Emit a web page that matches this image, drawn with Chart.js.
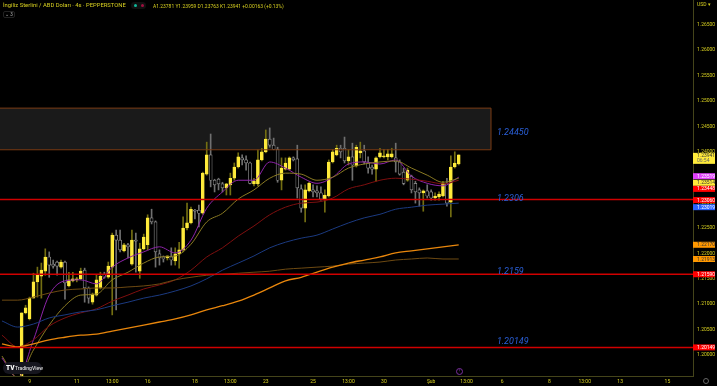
<!DOCTYPE html>
<html>
<head>
<meta charset="utf-8">
<title>GBPUSD 4s</title>
<script src="https://cdn.jsdelivr.net/npm/chart.js@4"></script>
<style>
  html, body { margin: 0; background: #000; }
  #wrap { position: relative; width: 717px; height: 386px; overflow: hidden; font-family: Roboto, sans-serif; }
  .txt { position: absolute; white-space: nowrap; line-height: 1; }
</style>
</head>
<body>
<div id="wrap">
  <canvas id="chart" width="717" height="386"></canvas>
  <div class="txt" style="left:3px;top:3px;font-size:5.85px;color:#d8d020">İngiliz Sterlini / ABD Doları · 4s · PEPPERSTONE</div>
  <div class="txt" style="left:131px;top:2px;width:15px;height:7px;border-radius:4px;background:#111"></div>
  <div class="txt" style="left:134px;top:4px;width:3px;height:3px;border-radius:2px;background:#0fb89a"></div>
  <div class="txt" style="left:141px;top:4px;width:3px;height:3px;border-radius:2px;background:#a01040"></div>
  <div class="txt" style="left:153px;top:3.5px;font-size:4.95px;color:#d8d020">A1.23781 Y1.23959 D1.23763 K1.23941 +0.00163 (+0.13%)</div>
  <div class="txt" style="left:3px;top:11px;width:12px;height:7px;border:1px solid #222;border-radius:2px;box-sizing:border-box;font-size:4.5px;color:#bbb;text-align:center;padding-top:0.5px">⌄ 3</div>
  <div class="txt" style="left:697px;top:2px;font-size:5px;color:#d8d020">USD ▾</div>
  <div class="txt" style="left:3px;top:362px;width:39px;height:12px;border-radius:6px;background:#16161e"></div>
  <div class="txt" style="left:6px;top:365px;font-size:6.5px;font-weight:900;color:#fff">TV</div>
  <div class="txt" style="left:15px;top:365.5px;font-size:5px;font-weight:500;color:#ddd">TradingView</div>
  <div class="txt" style="left:456px;top:367.5px;width:7px;height:7px;border:1px solid #7b2fa0;border-radius:50%;box-sizing:border-box;font-size:4px;color:#a050c8;text-align:center;padding-top:0.5px">!</div>
  <div class="txt" style="left:703px;top:378px;width:6px;height:6px;border:1px solid #666;border-radius:50%;box-sizing:border-box"></div>
</div>
<script>
const firstBar = 5
const opens = [1.1959,1.2083,1.2071,1.2112,1.2144,1.2155,1.2165,1.2193,1.2179,1.2183,1.2173,1.2183,1.2136,1.2146,1.2148,1.2150,1.2167,1.2132,1.2104,1.2118,1.2132,1.2159,1.2153,1.2173,1.2236,1.2226,1.2205,1.2217,1.2179,1.2226,1.2165,1.2209,1.2217,1.2270,1.2262,1.2199,1.2193,1.2191,1.2193,1.2185,1.2199,1.2207,1.2250,1.2260,1.2285,1.2285,1.2279,1.2356,1.2394,1.2344,1.2346,1.2337,1.2329,1.2335,1.2348,1.2370,1.2388,1.2384,1.2378,1.2337,1.2337,1.2384,1.2400,1.2425,1.2413,1.2405,1.2344,1.2366,1.2366,1.2388,1.2386,1.2327,1.2289,1.2323,1.2325,1.2323,1.2319,1.2307,1.2313,1.2380,1.2394,1.2407,1.2407,1.2382,1.2390,1.2372,1.2398,1.2402,1.2378,1.2370,1.2366,1.2390,1.2390,1.2390,1.2390,1.2388,1.2380,1.2360,1.2344,1.2352,1.2338,1.2325,1.2319,1.2323,1.2321,1.2309,1.2311,1.2313,1.2338,1.2301,1.2370,1.2376]
const highs = [1.2083,1.2098,1.2114,1.2161,1.2173,1.2181,1.2209,1.2203,1.2187,1.2185,1.2187,1.2185,1.2163,1.2163,1.2153,1.2171,1.2171,1.2134,1.2122,1.2157,1.2163,1.2163,1.2183,1.2240,1.2246,1.2246,1.2220,1.2220,1.2246,1.2240,1.2220,1.2238,1.2276,1.2287,1.2264,1.2207,1.2195,1.2195,1.2211,1.2211,1.2222,1.2272,1.2299,1.2291,1.2287,1.2295,1.2360,1.2419,1.2435,1.2346,1.2348,1.2340,1.2338,1.2358,1.2378,1.2398,1.2394,1.2392,1.2380,1.2348,1.2404,1.2407,1.2443,1.2447,1.2427,1.2409,1.2388,1.2388,1.2390,1.2390,1.2413,1.2335,1.2335,1.2340,1.2335,1.2333,1.2331,1.2325,1.2384,1.2404,1.2413,1.2413,1.2429,1.2404,1.2417,1.2413,1.2419,1.2413,1.2390,1.2374,1.2390,1.2407,1.2405,1.2405,1.2407,1.2417,1.2384,1.2368,1.2368,1.2354,1.2342,1.2329,1.2325,1.2335,1.2325,1.2319,1.2321,1.2342,1.2348,1.2392,1.2400,1.2394]
const lows = [1.1955,1.2081,1.2069,1.2112,1.2114,1.2112,1.2157,1.2153,1.2171,1.2157,1.2171,1.2110,1.2134,1.2144,1.2144,1.2148,1.2104,1.2102,1.2100,1.2116,1.2130,1.2151,1.2151,1.2079,1.2089,1.2203,1.2203,1.2191,1.2177,1.2163,1.2151,1.2207,1.2207,1.2258,1.2173,1.2177,1.2183,1.2187,1.2177,1.2177,1.2171,1.2203,1.2246,1.2258,1.2268,1.2252,1.2277,1.2354,1.2331,1.2321,1.2325,1.2321,1.2315,1.2315,1.2344,1.2368,1.2374,1.2364,1.2337,1.2333,1.2333,1.2382,1.2398,1.2409,1.2404,1.2340,1.2325,1.2364,1.2364,1.2382,1.2309,1.2281,1.2262,1.2321,1.2311,1.2311,1.2305,1.2281,1.2311,1.2378,1.2392,1.2388,1.2378,1.2374,1.2344,1.2370,1.2388,1.2376,1.2358,1.2356,1.2342,1.2388,1.2388,1.2384,1.2388,1.2360,1.2354,1.2335,1.2342,1.2319,1.2299,1.2293,1.2283,1.2309,1.2305,1.2305,1.2305,1.2311,1.2293,1.2272,1.2368,1.2374]
const closes = [1.2083,1.2093,1.2112,1.2144,1.2157,1.2167,1.2193,1.2177,1.2175,1.2175,1.2183,1.2142,1.2148,1.2150,1.2150,1.2165,1.2132,1.2112,1.2120,1.2148,1.2155,1.2153,1.2175,1.2236,1.2226,1.2207,1.2217,1.2213,1.2226,1.2224,1.2209,1.2232,1.2270,1.2262,1.2203,1.2191,1.2189,1.2195,1.2187,1.2199,1.2207,1.2250,1.2260,1.2287,1.2283,1.2279,1.2358,1.2394,1.2344,1.2335,1.2337,1.2329,1.2337,1.2348,1.2370,1.2390,1.2384,1.2378,1.2338,1.2343,1.2384,1.2400,1.2425,1.2413,1.2405,1.2344,1.2368,1.2378,1.2388,1.2384,1.2329,1.2289,1.2325,1.2338,1.2321,1.2319,1.2307,1.2315,1.2380,1.2400,1.2407,1.2400,1.2382,1.2390,1.2374,1.2409,1.2402,1.2380,1.2368,1.2366,1.2388,1.2398,1.2392,1.2396,1.2396,1.2380,1.2356,1.2338,1.2364,1.2325,1.2321,1.2319,1.2323,1.2313,1.2309,1.2313,1.2317,1.2338,1.2299,1.2370,1.2378,1.2394]

// moving averages, read every 4th bar
const maBars = [0,4,8,12,16,20,24,28,32,36,40,44,48,52,56,60,64,68,72,76,80,84,88,92,96,100,104,108,112,116]
const maFast = [1.1994,1.1955,1.2030,1.2118,1.2146,1.2148,1.2140,1.2173,1.2191,1.2203,1.2213,1.2201,1.2226,1.2289,1.2321,1.2344,1.2344,1.2380,1.2368,1.2350,1.2338,1.2350,1.2376,1.2380,1.2376,1.2384,1.2352,1.2338,1.2333,1.2350]
const maOlive = [1.1998,1.1955,1.2010,1.2059,1.2097,1.2118,1.2120,1.2148,1.2163,1.2181,1.2193,1.2195,1.2218,1.2262,1.2279,1.2307,1.2325,1.2348,1.2358,1.2356,1.2344,1.2350,1.2368,1.2376,1.2380,1.2382,1.2368,1.2354,1.2340,1.2348]
const maRed = [1.2039,1.2016,1.2030,1.2057,1.2073,1.2083,1.2091,1.2106,1.2118,1.2130,1.2138,1.2148,1.2167,1.2193,1.2211,1.2234,1.2254,1.2276,1.2291,1.2299,1.2301,1.2309,1.2327,1.2335,1.2344,1.2348,1.2346,1.2342,1.2337,1.2344]
const maBlue = [1.2067,1.2055,1.2061,1.2073,1.2079,1.2085,1.2089,1.2097,1.2104,1.2112,1.2118,1.2126,1.2136,1.2150,1.2167,1.2181,1.2195,1.2211,1.2222,1.2230,1.2236,1.2248,1.2260,1.2270,1.2277,1.2287,1.2291,1.2295,1.2297,1.2299]
const maBrown = [1.2108,1.2108,1.2114,1.2122,1.2128,1.2130,1.2132,1.2132,1.2134,1.2136,1.2140,1.2148,1.2153,1.2157,1.2159,1.2161,1.2163,1.2165,1.2169,1.2171,1.2173,1.2175,1.2179,1.2181,1.2183,1.2187,1.2189,1.2191,1.2189,1.2189]
const maOrange = [1.2022,1.2016,1.2022,1.2030,1.2035,1.2039,1.2041,1.2047,1.2053,1.2059,1.2065,1.2071,1.2079,1.2089,1.2097,1.2106,1.2118,1.2132,1.2146,1.2153,1.2163,1.2173,1.2181,1.2187,1.2193,1.2201,1.2205,1.2209,1.2213,1.2217]

const levels = [1.2306, 1.2159, 1.20149]
const zoneTop = 1.2486
const zoneBottom = 1.2404
const zoneEndBar = 124.2
const noteTexts = ['1.24450', '1.2306', '1.2159', '1.20149']
const notePrices = [1.2437, 1.2308, 1.2163, 1.2026]
const noteBar = 125.7

const yTicks = [1.2,1.205,1.21,1.215,1.22,1.225,1.23,1.235,1.24,1.245,1.25,1.255,1.26,1.265]
const xTickBars = [7,19,28,37,49,58,67,79,88,97,109,118,127,139,148,157,169]
const xTickLabels = ['9','11','13:00','16','18','13:00','23','25','13:00','30','Şub','13:00','6','8','13:00','13','15']

const tagTexts = ['1.23519','1.23514','1.23448','1.23060','1.23019','1.22170','1.21913','1.21590','1.20149']
const tagPrices = [1.2352,1.2339,1.2327,1.2305,1.2291,1.2217,1.2189,1.2159,1.2015]
const tagColors = ['#e040fb','#ffeb3b','#ff0000','#ff0000','#2962ff','#ff9800','#ff9800','#ff0000','#ff0000']
const tagInk = ['#fff','#333','#fff','#fff','#fff','#333','#333','#fff','#fff']

const bull = '#ffeb3b'
const bars = opens.map((o, n) => firstBar + n)
const isBull = opens.map((o, n) => closes[n] >= o)

function maLine(values, color, width) {
  return {
    type: 'line',
    order: 5,
    data: values.map((v, n) => ({ x: maBars[n], y: v })),
    borderColor: color,
    borderWidth: width,
    pointRadius: 0,
    cubicInterpolationMode: 'monotone'
  }
}

function straight(x0, y0, x1, y1, color, width) {
  return {
    type: 'line',
    order: 1,
    data: [{ x: x0, y: y0 }, { x: x1, y: y1 }],
    borderColor: color,
    borderWidth: width,
    pointRadius: 0
  }
}

// chart.js reserves room for the end labels, the plot here runs edge to edge
function noMargins(s) {
  s.paddingTop = 0
  s.paddingBottom = 0
  s.paddingLeft = 0
  s.paddingRight = 0
}

const labelsPlugin = {
  id: 'labelsPlugin',
  afterDatasetsDraw(chart) {
    const { ctx, scales: { x, y } } = chart
    ctx.save()
    ctx.textBaseline = 'middle'
    ctx.textAlign = 'left'
    ctx.fillStyle = '#2a5fd8'
    ctx.font = 'italic 9px Roboto'
    noteTexts.forEach((t, n) => ctx.fillText(t, x.getPixelForValue(noteBar), y.getPixelForValue(notePrices[n])))

    const left = x.right
    ctx.font = '5px Roboto'
    tagTexts.forEach((t, n) => {
      const py = y.getPixelForValue(tagPrices[n])
      ctx.fillStyle = tagColors[n]
      ctx.fillRect(left, py - 3, 22, 6)
      ctx.fillStyle = tagInk[n]
      ctx.fillText(t, left + 4, py + 0.3)
    })
    // last price tag has a countdown under it
    const py = y.getPixelForValue(closes[closes.length - 1])
    ctx.fillStyle = bull
    ctx.fillRect(left, py - 2, 22, 11)
    ctx.fillStyle = '#333'
    ctx.fillText('1.23941', left + 4, py + 1)
    ctx.fillStyle = '#666'
    ctx.fillText('06:54', left + 4, py + 6.3)
    ctx.restore()
  }
}

new Chart(document.querySelector('#chart'), {
  type: 'bar',
  plugins: [labelsPlugin],
  data: {
    datasets: [
      {
        type: 'line',
        order: 10,
        data: [{ x: -0.5, y: zoneTop }, { x: zoneEndBar, y: zoneTop }],
        borderColor: '#7a3a12',
        borderWidth: 1,
        pointRadius: 0,
        backgroundColor: '#1a1a1a',
        fill: { target: { value: zoneBottom } }
      },
      straight(-0.5, zoneBottom, zoneEndBar, zoneBottom, '#7a3a12', 1),
      straight(zoneEndBar, zoneBottom, zoneEndBar, zoneTop, '#7a3a12', 1),
      {
        order: 8,
        grouped: false,
        barThickness: 1,
        data: bars.map((b, n) => ({ x: b, y: [lows[n], highs[n]] })),
        backgroundColor: isBull.map(up => up ? '#736e12' : '#707070')
      },
      {
        order: 7,
        grouped: false,
        barThickness: 3,
        borderWidth: 0.7,
        borderSkipped: false,
        data: bars.map((b, n) => ({ x: b, y: [opens[n], closes[n]] })),
        backgroundColor: isBull.map(up => up ? bull : '#000'),
        borderColor: isBull.map(up => up ? bull : '#a0a0a0')
      },
      maLine(maOrange, '#e8860c', 1.3),
      maLine(maBrown, '#6e4a12', 1),
      maLine(maBlue, '#1b3a80', 1),
      maLine(maRed, '#7f0f0f', 1),
      maLine(maOlive, '#8a7a22', 1),
      maLine(maFast, '#8e24aa', 1),
      ...levels.map(v => straight(-0.5, v, 175.5, v, '#d00000', 1.5))
    ]
  },
  options: {
    responsive: false,
    animation: false,
    layout: { padding: 0 },
    plugins: {
      legend: { display: false },
      title: { display: false },
      tooltip: { enabled: false }
    },
    scales: {
      x: {
        type: 'linear',
        min: -0.5,
        max: 175.5,
        offset: false,
        grid: { display: false, drawTicks: false },
        border: { display: true, color: '#44441a' },
        afterFit: s => { s.height = 10; noMargins(s) },
        afterBuildTicks: s => { s.ticks = xTickBars.map(v => ({ value: v })) },
        ticks: {
          autoSkip: false,
          maxRotation: 0,
          padding: 2.5,
          color: '#d8d020',
          font: { size: 5, family: 'Roboto' },
          callback: (v, i) => xTickLabels[i]
        }
      },
      y: {
        position: 'right',
        min: 1.19587,
        max: 1.26988,
        grid: { display: false, drawTicks: false },
        border: { display: true, color: '#44441a' },
        afterFit: s => { s.width = 24; noMargins(s) },
        afterBuildTicks: s => { s.ticks = yTicks.map(v => ({ value: v })) },
        ticks: {
          padding: 4,
          color: '#d8d020',
          font: { size: 5, family: 'Roboto' },
          callback: v => v.toFixed(5)
        }
      }
    }
  }
})
</script>
</body>
</html>
